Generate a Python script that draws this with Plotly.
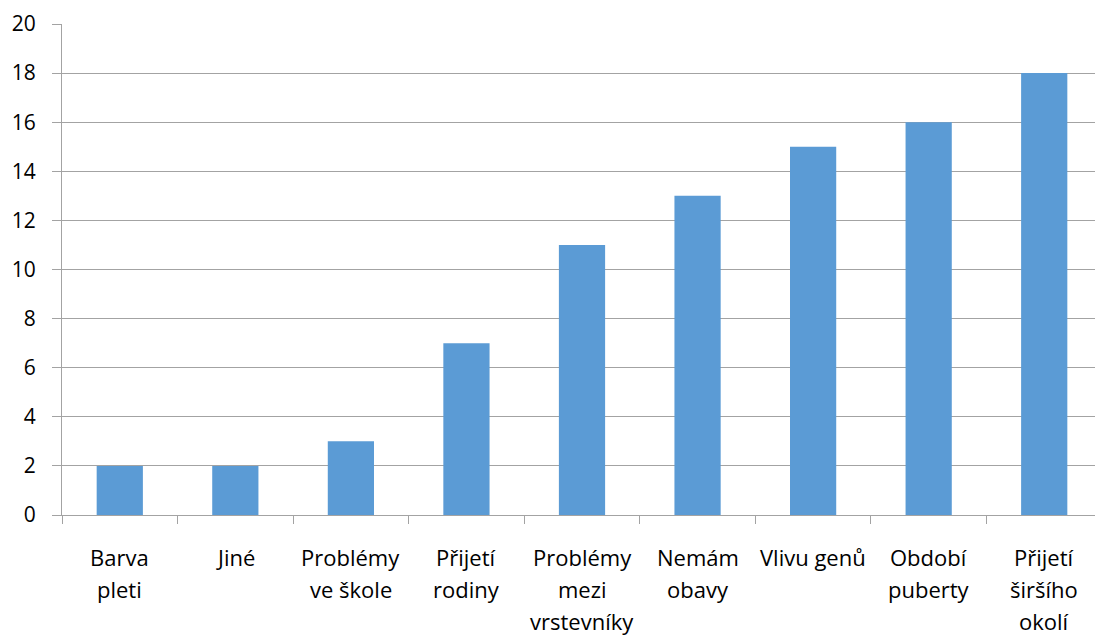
import plotly.graph_objects as go

categories = ["Barva pleti", "Jiné", "Problémy ve škole", "Přijetí rodiny",
              "Problémy mezi vrstevníky", "Nemám obavy", "Vlivu genů",
              "Období puberty", "Přijetí širšího okolí"]
label_lines = [["Barva", "pleti"], ["Jiné"], ["Problémy", "ve škole"],
               ["Přijetí", "rodiny"], ["Problémy", "mezi", "vrstevníky"],
               ["Nemám", "obavy"], ["Vlivu genů"], ["Období", "puberty"],
               ["Přijetí", "širšího", "okolí"]]
values = [2, 2, 3, 7, 11, 13, 15, 16, 18]
y_ticks = list(range(0, 21, 2))

FONT = "Open Sans"
FS = 21
LABEL_FS = 22
GRID = "#A3A3A3"

fig = go.Figure(go.Bar(
    x=categories, y=values,
    marker=dict(color="#5B9BD5", line=dict(width=0)),
    hoverinfo="x+y",
))

annotations = []
for cat, lines in zip(categories, label_lines):
    for i, txt in enumerate(lines):
        annotations.append(dict(
            x=cat, xref="x", y=0, yref="paper", text=txt, showarrow=False,
            yanchor="middle", xanchor="center", yshift=-(42 + 32 * i),
            borderpad=0,
            font=dict(family=FONT, size=LABEL_FS, color="#000000"),
        ))

fig.update_layout(
    width=1095, height=628,
    margin=dict(l=54, r=1, t=16, b=121, pad=0),
    paper_bgcolor="white", plot_bgcolor="white",
    bargap=0.6,
    showlegend=False,
    font=dict(family=FONT, size=FS, color="#000000"),
    annotations=annotations,
    xaxis=dict(
        type="category", range=[-0.5, len(categories) - 0.5],
        showticklabels=False, ticks="outside", tickson="boundaries",
        ticklen=8, tickcolor=GRID, tickwidth=1,
        showline=True, linecolor=GRID, linewidth=1,
        showgrid=False, zeroline=False,
    ),
    yaxis=dict(
        range=[0, 20], tickvals=y_ticks, ticktext=[str(v) for v in y_ticks],
        ticks="outside", ticklen=9, tickcolor=GRID, tickwidth=1,
        showline=True, linecolor=GRID, linewidth=1,
        showgrid=True, gridcolor=GRID, gridwidth=1,
        zeroline=False, ticklabelstandoff=12,
        tickfont=dict(family=FONT, size=FS, color="#000000"),
    ),
)

fig.write_html("out.html")
